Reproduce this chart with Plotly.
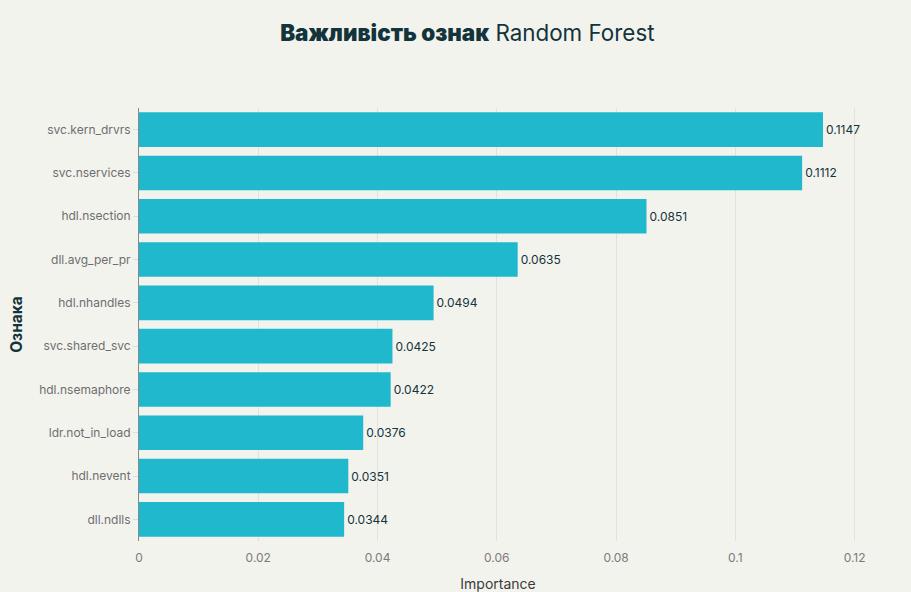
import plotly.graph_objects as go

features = ["svc.kern_drvrs", "svc.nservices", "hdl.nsection", "dll.avg_per_pr",
            "hdl.nhandles", "svc.shared_svc", "hdl.nsemaphore", "ldr.not_in_load",
            "hdl.nevent", "dll.ndlls"]
importance = [0.1147, 0.1112, 0.0851, 0.0635, 0.0494, 0.0425, 0.0422, 0.0376, 0.0351, 0.0344]
x_ticks = [0, 0.02, 0.04, 0.06, 0.08, 0.1, 0.12]
x_tick_text = ["0", "0.02", "0.04", "0.06", "0.08", "0.1", "0.12"]

fig = go.Figure(go.Bar(
    x=importance, y=features, orientation="h",
    marker=dict(color="#1FB8CD", line=dict(width=0)),
    text=[f"{v:.4f}" for v in importance], textposition="outside",
    textfont=dict(color="#13343B", size=12, family="Inter"),
    cliponaxis=False,
))

fig.update_layout(
    width=911, height=592,
    paper_bgcolor="#F3F3EE", plot_bgcolor="#F3F3EE",
    margin=dict(l=139, r=54, t=108, b=51),
    title=dict(text="<span style='font-weight:900'>Важливість ознак</span> Random Forest",
               x=0.513, xanchor="center", y=0.944, yanchor="middle",
               font=dict(size=22.4, color="#13343B", family="Inter")),
    font=dict(family="Inter", color="#13343B"),
    bargap=0.2,
    showlegend=False,
)
fig.update_xaxes(range=[0, 0.1204], tickvals=x_ticks, ticktext=x_tick_text,
                 showgrid=True, gridcolor="#E2E2DC", gridwidth=1, zeroline=False,
                 tickfont=dict(size=12, color="#7A7A7A"),
                 ticks="outside", ticklen=6, tickcolor="rgba(0,0,0,0)",
                 automargin=False,
                 title=dict(text="Importance", font=dict(size=14, color="#3A3A3A"), standoff=19))
fig.update_yaxes(categoryorder="array", categoryarray=features[::-1],
                 showline=True, linecolor="#888888", linewidth=1,
                 ticks="outside", ticklen=5, tickcolor="#DDDDDD",
                 tickfont=dict(size=12, color="#6E6E6E"),
                 title=dict(text="<b>Ознака</b>", font=dict(size=15.5, color="#13343B"), standoff=12))

fig.write_html("out.html")
